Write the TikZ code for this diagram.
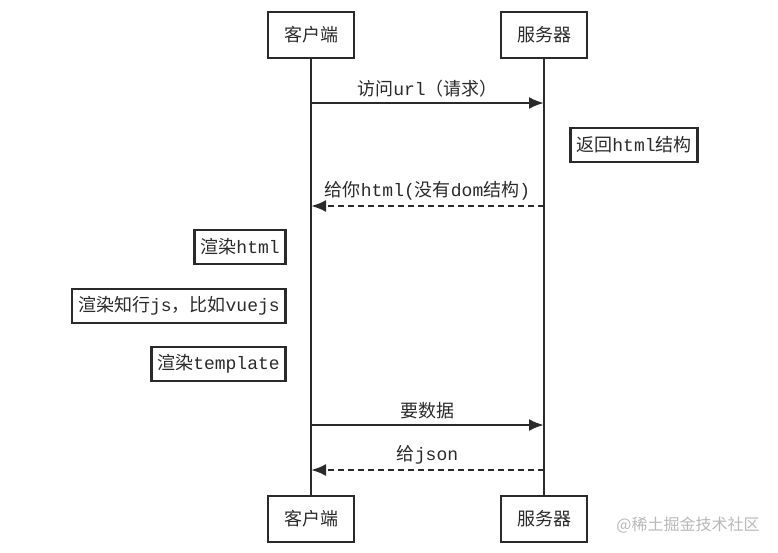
\documentclass[tikz,border=0pt]{standalone}
\usepackage{fontspec}
\setmainfont{Noto Sans CJK SC}
\setmonofont{Liberation Mono}
\usetikzlibrary{arrows.meta}
\definecolor{ink}{HTML}{2A2A2A}
\begin{document}
\begin{tikzpicture}[x=1pt,y=-1pt,
    actor/.style = {draw=ink, line width=2.6pt, text=ink, minimum width=86pt, minimum height=46pt, font=\fontsize{18}{20}\selectfont},
    note/.style = {draw=ink, line width=2.6pt, text=ink, inner xsep=6pt, minimum height=34pt, font=\fontsize{18}{20}\selectfont},
    life/.style = {draw=ink, line width=2.6pt},
    msg/.style = {draw=ink, line width=2.4pt, -{Latex[length=15pt,width=12pt]}},
    reply/.style = {msg, dash pattern=on 6pt off 4pt},
    lbl/.style = {text=ink, font=\fontsize{18}{20}\selectfont, above=1pt}]
    \useasboundingbox (0,0) rectangle (778,552);
    % actors
    \node at (311,35)  [actor] (c1) {客户端};
    \node at (544,35)  [actor] (s1) {服务器};
    \node at (311,519) [actor] (c2) {客户端};
    \node at (544,519) [actor] (s2) {服务器};
    \draw[life] (c1.south) -- (c2.north);
    \draw[life] (s1.south) -- (s2.north);
    % points on the lifelines
    \coordinate (ca) at (311,103);
    \coordinate (sa) at (544,103);
    \coordinate (cb) at (311,206);
    \coordinate (sb) at (544,206);
    \coordinate (cc) at (311,425);
    \coordinate (sc) at (544,425);
    \coordinate (cd) at (311,470);
    \coordinate (sd) at (544,470);
    % messages
    \draw[msg] (ca) -- node[lbl] {访问\texttt{url}（请求）} (sa);
    \draw[reply] (sb) -- node[lbl] {给你\texttt{html(}没有\texttt{dom}结构\texttt{)}} (cb);
    \draw[msg] (cc) -- node[lbl] {要数据} (sc);
    \draw[reply] (sd) -- node[lbl] {给\texttt{json}} (cd);
    % notes
    \node at (634,145) [note] (n1) {返回\texttt{html}结构};
    \node at (287,247) [note, anchor=east] (n2) {渲染\texttt{html}};
    \node at (287,306) [note, anchor=east] (n3) {渲染知行\texttt{js}，比如\texttt{vuejs}};
    \node at (287,364) [note, anchor=east] (n4) {渲染\texttt{template}};
    % watermark
    \node at (688,525) [text=black!28, font=\fontsize{16}{18}\selectfont] (wm) {@稀土掘金技术社区};
\end{tikzpicture}
\end{document}
